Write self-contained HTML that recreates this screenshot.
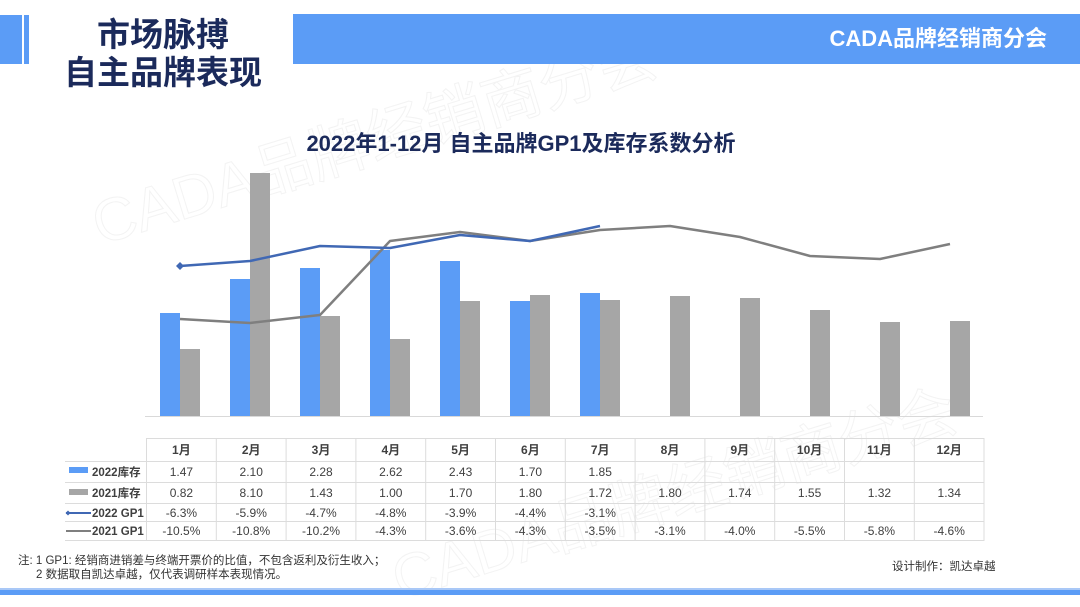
<!DOCTYPE html>
<html>
<head>
<meta charset="utf-8">
<style>
html,body{margin:0;padding:0;background:#fff;}
body{width:1080px;height:607px;overflow:hidden;}
svg{display:block;}
text{font-family:"Liberation Sans","Noto Sans CJK SC",sans-serif;}
</style>
</head>
<body>
<svg width="1080" height="607" viewBox="0 0 1080 607" xmlns="http://www.w3.org/2000/svg">
  <!-- watermark -->
  <g fill="none" stroke="#f3f3f3" stroke-width="1" font-size="60" font-family="Liberation Sans, Noto Sans CJK SC, sans-serif">
    <text x="100" y="245" transform="rotate(-17 100 245)">CADA品牌经销商分会</text>
    <text x="400" y="600" transform="rotate(-17 400 600)">CADA品牌经销商分会</text>
  </g>

  <!-- header -->
  <rect x="0" y="15" width="22" height="49" fill="#5b9cf6"/>
  <rect x="24" y="15" width="5" height="49" fill="#5b9cf6"/>
  <rect x="293" y="14" width="787" height="50" fill="#5b9cf6"/>
  <text x="163" y="46" text-anchor="middle" font-size="33" font-weight="bold" fill="#1b2a5b">市场脉搏</text>
  <text x="163" y="84" text-anchor="middle" font-size="33" font-weight="bold" fill="#1b2a5b">自主品牌表现</text>
  <text x="1047" y="46" text-anchor="end" font-size="22" font-weight="bold" fill="#ffffff">CADA品牌经销商分会</text>

  <!-- chart title -->
  <text x="521" y="151" text-anchor="middle" font-size="22" font-weight="bold" fill="#1b2a5b">2022年1-12月 自主品牌GP1及库存系数分析</text>

  <!-- bars -->
  <g fill="#5b9cf6">
    <rect x="160" y="313" width="20" height="103"/>
    <rect x="230" y="279" width="20" height="137"/>
    <rect x="300" y="268" width="20" height="148"/>
    <rect x="370" y="250" width="20" height="166"/>
    <rect x="440" y="261" width="20" height="155"/>
    <rect x="510" y="301" width="20" height="115"/>
    <rect x="580" y="293" width="20" height="123"/>
  </g>
  <g fill="#a6a6a6">
    <rect x="180" y="349" width="20" height="67"/>
    <rect x="250" y="173" width="20" height="243"/>
    <rect x="320" y="316" width="20" height="100"/>
    <rect x="390" y="339" width="20" height="77"/>
    <rect x="460" y="301" width="20" height="115"/>
    <rect x="530" y="295" width="20" height="121"/>
    <rect x="600" y="300" width="20" height="116"/>
    <rect x="670" y="296" width="20" height="120"/>
    <rect x="740" y="298" width="20" height="118"/>
    <rect x="810" y="310" width="20" height="106"/>
    <rect x="880" y="322" width="20" height="94"/>
    <rect x="950" y="321" width="20" height="95"/>
  </g>
  <line x1="145" y1="416.5" x2="983" y2="416.5" stroke="#d9d9d9" stroke-width="1"/>

  <!-- lines -->
  <polyline points="180,319 250,323 320,315 390,241 460,232 530,241 600,230 670,226 740,237 810,256 880,259 950,244" fill="none" stroke="#7f7f7f" stroke-width="2.5" stroke-linejoin="round"/>
  <polyline points="180,266 250,261 320,246 390,248 460,235 530,241 600,226" fill="none" stroke="#4068b4" stroke-width="2.5" stroke-linejoin="round"/>
  <path d="M180 262 L184 266 L180 270 L176 266 Z" fill="#4068b4"/>

  <!-- table grid -->
  <g stroke="#dcdcdc" stroke-width="1">
    <line x1="146" y1="438.5" x2="984" y2="438.5"/>
    <line x1="65" y1="461.5" x2="984" y2="461.5"/>
    <line x1="65" y1="482.5" x2="984" y2="482.5"/>
    <line x1="65" y1="503.5" x2="984" y2="503.5"/>
    <line x1="65" y1="521.5" x2="984" y2="521.5"/>
    <line x1="65" y1="540.5" x2="984" y2="540.5"/>
    <line x1="146.5" y1="438" x2="146.5" y2="541"/>
    <line x1="216.3" y1="438" x2="216.3" y2="541"/>
    <line x1="286.1" y1="438" x2="286.1" y2="541"/>
    <line x1="355.9" y1="438" x2="355.9" y2="541"/>
    <line x1="425.7" y1="438" x2="425.7" y2="541"/>
    <line x1="495.5" y1="438" x2="495.5" y2="541"/>
    <line x1="565.3" y1="438" x2="565.3" y2="541"/>
    <line x1="635.1" y1="438" x2="635.1" y2="541"/>
    <line x1="704.9" y1="438" x2="704.9" y2="541"/>
    <line x1="774.7" y1="438" x2="774.7" y2="541"/>
    <line x1="844.5" y1="438" x2="844.5" y2="541"/>
    <line x1="914.3" y1="438" x2="914.3" y2="541"/>
    <line x1="984" y1="438" x2="984" y2="541"/>
  </g>

  <!-- legend column -->
  <rect x="69" y="467" width="19" height="6" fill="#5b9cf6"/>
  <rect x="69" y="489" width="19" height="6" fill="#a6a6a6"/>
  <line x1="66" y1="513" x2="91" y2="513" stroke="#4068b4" stroke-width="2"/>
  <path d="M68 510.5 L70.5 513 L68 515.5 L65.5 513 Z" fill="#4068b4"/>
  <line x1="66" y1="531" x2="91" y2="531" stroke="#7f7f7f" stroke-width="2"/>
  <g font-size="11.5" font-weight="bold" fill="#404040">
    <text x="92" y="476">2022库存</text>
    <text x="92" y="497">2021库存</text>
    <text x="92" y="517">2022 GP1</text>
    <text x="92" y="535">2021 GP1</text>
  </g>

  <!-- table text -->
  <g font-size="12" fill="#404040" text-anchor="middle">
    <g font-weight="bold">
      <text x="181.4" y="454">1月</text>
      <text x="251.2" y="454">2月</text>
      <text x="321" y="454">3月</text>
      <text x="390.8" y="454">4月</text>
      <text x="460.6" y="454">5月</text>
      <text x="530.4" y="454">6月</text>
      <text x="600.2" y="454">7月</text>
      <text x="670" y="454">8月</text>
      <text x="739.8" y="454">9月</text>
      <text x="809.6" y="454">10月</text>
      <text x="879.4" y="454">11月</text>
      <text x="949.2" y="454">12月</text>
    </g>
    <text x="181.4" y="476">1.47</text>
    <text x="251.2" y="476">2.10</text>
    <text x="321" y="476">2.28</text>
    <text x="390.8" y="476">2.62</text>
    <text x="460.6" y="476">2.43</text>
    <text x="530.4" y="476">1.70</text>
    <text x="600.2" y="476">1.85</text>

    <text x="181.4" y="497">0.82</text>
    <text x="251.2" y="497">8.10</text>
    <text x="321" y="497">1.43</text>
    <text x="390.8" y="497">1.00</text>
    <text x="460.6" y="497">1.70</text>
    <text x="530.4" y="497">1.80</text>
    <text x="600.2" y="497">1.72</text>
    <text x="670" y="497">1.80</text>
    <text x="739.8" y="497">1.74</text>
    <text x="809.6" y="497">1.55</text>
    <text x="879.4" y="497">1.32</text>
    <text x="949.2" y="497">1.34</text>

    <text x="181.4" y="517">-6.3%</text>
    <text x="251.2" y="517">-5.9%</text>
    <text x="321" y="517">-4.7%</text>
    <text x="390.8" y="517">-4.8%</text>
    <text x="460.6" y="517">-3.9%</text>
    <text x="530.4" y="517">-4.4%</text>
    <text x="600.2" y="517">-3.1%</text>

    <text x="181.4" y="535">-10.5%</text>
    <text x="251.2" y="535">-10.8%</text>
    <text x="321" y="535">-10.2%</text>
    <text x="390.8" y="535">-4.3%</text>
    <text x="460.6" y="535">-3.6%</text>
    <text x="530.4" y="535">-4.3%</text>
    <text x="600.2" y="535">-3.5%</text>
    <text x="670" y="535">-3.1%</text>
    <text x="739.8" y="535">-4.0%</text>
    <text x="809.6" y="535">-5.5%</text>
    <text x="879.4" y="535">-5.8%</text>
    <text x="949.2" y="535">-4.6%</text>
  </g>

  <!-- footnotes -->
  <g font-size="11.5" fill="#333333">
    <text x="18" y="564">注: 1 GP1: 经销商进销差与终端开票价的比值，不包含返利及衍生收入；</text>
    <text x="36" y="578">2 数据取自凯达卓越，仅代表调研样本表现情况。</text>
    <text x="892" y="570">设计制作：凯达卓越</text>
  </g>

  <!-- bottom bar -->
  <rect x="0" y="588" width="1080" height="2" fill="#a9c8f7"/>
  <rect x="0" y="590" width="1080" height="5" fill="#5b9cf6"/>
</svg>
</body>
</html>
